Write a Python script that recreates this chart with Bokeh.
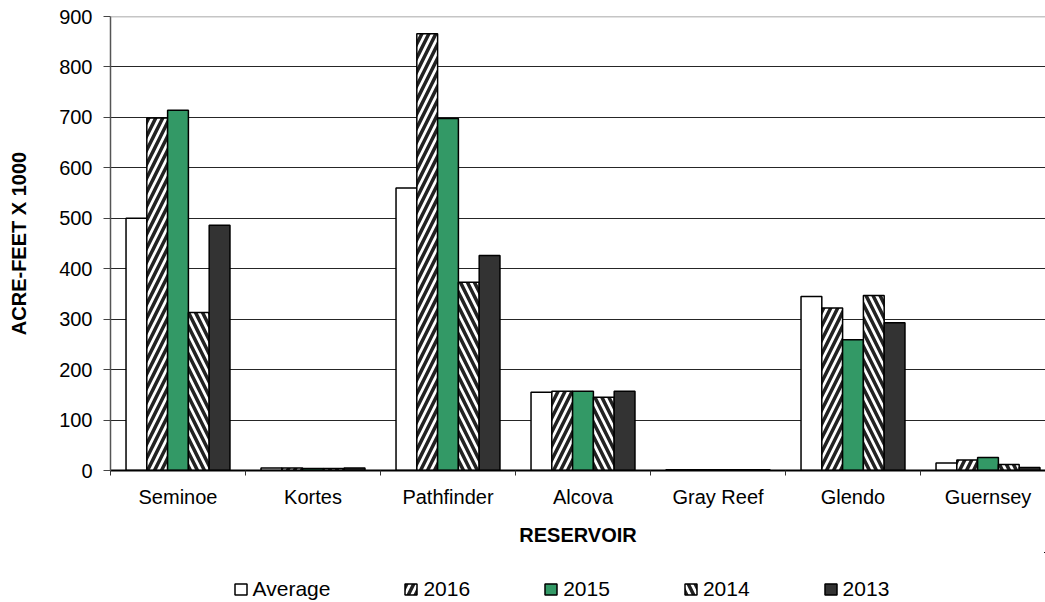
from bokeh.plotting import figure
from bokeh.layouts import column
from bokeh.models import Range1d, FixedTicker, Legend, LegendItem, ColumnDataSource, Span
from bokeh.transform import dodge
from bokeh.embed import file_html
from bokeh.resources import INLINE

# ---- data ----
reservoirs = ["Seminoe", "Kortes", "Pathfinder", "Alcova", "Gray Reef", "Glendo", "Guernsey"]
average = [500, 5, 560, 155, 1.5, 345, 15]
y2016 = [699, 5, 866, 157, 1.5, 322, 21]
y2015 = [714, 4, 698, 157, 1.5, 259, 26]
y2014 = [313, 4, 373, 145, 1.5, 347, 12]
y2013 = [486, 5, 426, 157, 1.5, 293, 6]
series_names = ["Average", "2016", "2015", "2014", "2013"]
y_ticks = [0, 100, 200, 300, 400, 500, 600, 700, 800, 900]

x_centers = [i + 0.5 for i in range(len(reservoirs))]
boundaries = list(range(len(reservoirs) + 1))

source = ColumnDataSource(dict(x=x_centers, Average=average, y2016=y2016,
                               y2015=y2015, y2014=y2014, y2013=y2013))
fields = ["Average", "y2016", "y2015", "y2014", "y2013"]

FONT = "Liberation Sans"
H1 = 552

p = figure(width=1045, height=H1, output_backend="svg", toolbar_location=None,
           x_range=Range1d(0, (1045 - 110) / 135.0), y_range=Range1d(0, 900),
           min_border_left=110, min_border_right=0, min_border_top=16,
           min_border_bottom=H1 - 470, title=None)
p.background_fill_color = "white"
p.border_fill_color = "white"
p.outline_line_color = None

bw = 0.154
offsets = [-2 * bw, -bw, 0, bw, 2 * bw]
styles = [
    dict(fill_color="white"),
    dict(fill_color="white", hatch_pattern="/", hatch_color="#222222", hatch_weight=3.5, hatch_scale=14),
    dict(fill_color="#339966"),
    dict(fill_color="white", hatch_pattern="\\", hatch_color="#222222", hatch_weight=3.5, hatch_scale=14),
    dict(fill_color="#333333"),
]
renderers = []
for f, off, st in zip(fields, offsets, styles):
    r = p.vbar(x=dodge("x", off), top=f, width=bw, bottom=0, source=source,
               line_color="black", line_width=1.5, **st)
    renderers.append(r)

# grid
p.xgrid.grid_line_color = None
p.ygrid.ticker = FixedTicker(ticks=y_ticks[1:-1])
p.ygrid.grid_line_color = "#262626"
p.ygrid.grid_line_width = 1
p.add_layout(Span(location=900, dimension="width", line_color="#8c8c8c", line_width=1.5))

# x axis
xa = p.xaxis[0]
xa.ticker = FixedTicker(ticks=x_centers, minor_ticks=boundaries)
xa.major_label_overrides = {x: n for x, n in zip(x_centers, reservoirs)}
xa.major_tick_line_color = None
xa.major_tick_out = 0
xa.major_tick_in = 0
xa.minor_tick_out = 5
xa.minor_tick_in = 0
xa.minor_tick_line_color = "#333333"
xa.axis_line_color = "black"
xa.axis_line_width = 2
xa.major_label_standoff = 10
xa.major_label_text_font = FONT
xa.major_label_text_font_size = "20px"
xa.major_label_text_color = "black"
xa.axis_label = "RESERVOIR"
xa.axis_label_text_font = FONT
xa.axis_label_text_font_size = "20px"
xa.axis_label_text_font_style = "bold"
xa.axis_label_text_color = "black"
xa.axis_label_standoff = 13

# y axis
ya = p.yaxis[0]
ya.ticker = FixedTicker(ticks=y_ticks)
ya.major_tick_out = 7
ya.major_tick_in = 0
ya.major_tick_line_color = "#444444"
ya.minor_tick_line_color = None
ya.axis_line_color = "#555555"
ya.axis_line_width = 1.5
ya.major_label_standoff = 11
ya.major_label_text_font = FONT
ya.major_label_text_font_size = "20px"
ya.major_label_text_color = "black"
ya.axis_label = "ACRE-FEET X 1000"
ya.axis_label_text_font = FONT
ya.axis_label_text_font_size = "20px"
ya.axis_label_text_font_style = "bold"
ya.axis_label_text_color = "black"
ya.axis_label_standoff = 26

# ---- legend strip (same series, drawn out of view; only the legend shows) ----
H2 = 602 - H1
p2 = figure(width=1045, height=H2, output_backend="svg", toolbar_location=None,
            x_range=Range1d(-20, -19), y_range=Range1d(-20, -19),
            x_axis_location=None, y_axis_location=None, title=None,
            min_border_left=0, min_border_right=0, min_border_top=0, min_border_bottom=0)
p2.outline_line_color = None
p2.grid.grid_line_color = None
p2.background_fill_color = "white"
p2.border_fill_color = "white"
leg_renderers = []
for f, off, st in zip(fields, offsets, styles):
    r = p2.vbar(x=dodge("x", off), top=f, width=bw, bottom=0, source=source,
                line_color="black", line_width=1.5, **st)
    leg_renderers.append(r)

legend = Legend(items=[LegendItem(label=n, renderers=[r]) for n, r in zip(series_names, leg_renderers)],
                orientation="horizontal", location=(122.6, 1.25), padding=0, margin=0,
                spacing=73, glyph_width=15, glyph_height=14, label_standoff=5,
                label_text_font=FONT, label_text_font_size="21px", label_text_color="black",
                border_line_color=None, background_fill_alpha=0)
p2.add_layout(legend, "center")

layout = column(p, p2, spacing=0)
open("out.html", "w").write(file_html(layout, INLINE))
